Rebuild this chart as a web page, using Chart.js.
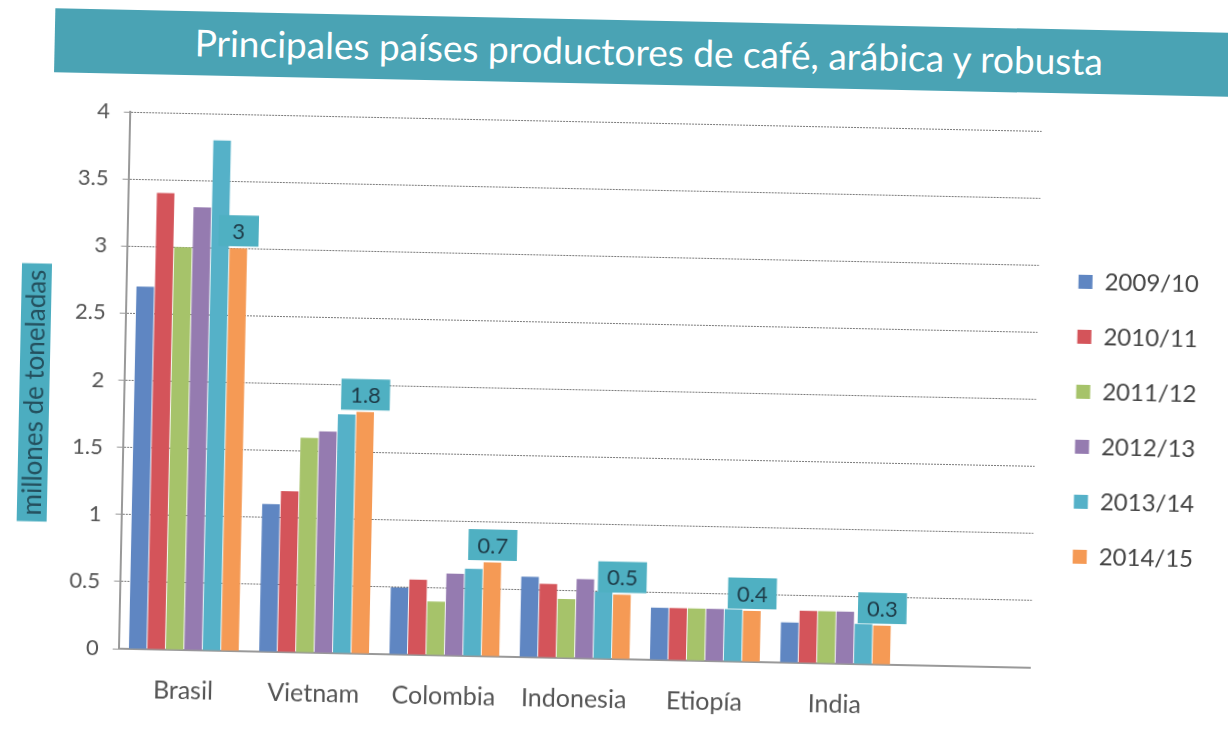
<!DOCTYPE html>
<html lang="es">
<head>
    <meta charset="UTF-8">
    <title>Principales países productores de café</title>
    <style>
        body { margin: 0; background: #fff; overflow: hidden; }
        .hoja { position: relative; width: 1228px; height: 733px; transform: rotate(1.2deg); background: #fff; }
        .banda { position: absolute; left: 48px; top: 20px; width: 1220px; height: 64px; background: #4aa3b4;
                 color: #fff; font-family: Lato, sans-serif; font-size: 37px; line-height: 62px; }
        .banda span { position: absolute; left: 140px; }
        #grafico { position: absolute; left: 0; top: 0; }
    </style>
</head>
<body>
    <div class="hoja">
        <div class="banda"><span>Principales países productores de café, arábica y robusta</span></div>
        <canvas id="grafico" width="1228" height="733"></canvas>
    </div>

    <script src="https://cdn.jsdelivr.net/npm/chart.js"></script>
    <script>
    // millones de toneladas
    const paises = ['Brasil', 'Vietnam', 'Colombia', 'Indonesia', 'Etiopía', 'India'];
    const campanas = ['2009/10', '2010/11', '2011/12', '2012/13', '2013/14', '2014/15'];
    const c2009 = [2.7, 1.1, 0.5, 0.6, 0.39, 0.3];
    const c2010 = [3.4, 1.2, 0.56, 0.55, 0.39, 0.39];
    const c2011 = [3.0, 1.6, 0.4, 0.44, 0.39, 0.39];
    const c2012 = [3.3, 1.65, 0.61, 0.59, 0.39, 0.39];
    const c2013 = [3.8, 1.78, 0.65, 0.5, 0.39, 0.3];
    const c2014 = [3.0, 1.8, 0.7, 0.48, 0.38, 0.29];
    const ticksY = [0, 0.5, 1, 1.5, 2, 2.5, 3, 3.5, 4];
    const colores = ['#5f86c2', '#d4545a', '#a6c36a', '#957bb0', '#55b1c8', '#f59a55'];
    const tituloY = 'millones de toneladas';

    const series = [c2009, c2010, c2011, c2012, c2013, c2014];
    const fuente = 'Lato, sans-serif';

    // titulo del eje y sobre caja de color (un poco mas abajo que el centro, como en el original)
    const tituloEje = {
        id: 'tituloEje',
        beforeDraw(chart) {
            const ctx = chart.ctx;
            const s = chart.scales.y;
            const cx = 35;
            const cy = (s.top + s.bottom) / 2 + 14;
            ctx.save();
            ctx.fillStyle = '#4cadc0';
            ctx.fillRect(cx - 15, cy - 129, 30, 258);
            ctx.translate(cx, cy);
            ctx.rotate(-Math.PI / 2);
            ctx.fillStyle = '#24505e';
            ctx.font = '26px ' + fuente;
            ctx.textAlign = 'center';
            ctx.textBaseline = 'middle';
            ctx.fillText(tituloY, 0, 1);
            ctx.restore();
        }
    };

    // mover la leyenda un poco
    const moverLeyenda = {
        id: 'moverLeyenda',
        afterLayout(chart) {
            const l = chart.legend;
            l.top -= 18; l.bottom -= 18;
            l.left += 9; l.right += 9;
        }
    };

    // etiquetas de la ultima campaña
    const etiquetas = {
        id: 'etiquetas',
        afterDatasetsDraw(chart) {
            const ctx = chart.ctx;
            const meta = chart.getDatasetMeta(5);
            const datos = chart.data.datasets[5].data;
            ctx.save();
            ctx.font = '22px ' + fuente;
            meta.data.forEach((bar, i) => {
                const txt = String(Number(datos[i].toFixed(1)));
                const w = Math.max(40, ctx.measureText(txt).width + 18);
                const h = 31;
                const y = bar.y - 2 - h;
                ctx.fillStyle = '#4fb0c2';
                ctx.fillRect(bar.x - w / 2, y, w, h);
                ctx.fillStyle = '#1e3b48';
                ctx.textAlign = 'center';
                ctx.textBaseline = 'middle';
                ctx.fillText(txt, bar.x, y + h / 2 + 1);
            });
            ctx.restore();
        }
    };

    const datos = {
        labels: [...paises, ''],
        datasets: campanas.map((c, i) => ({
            label: c,
            data: series[i],
            backgroundColor: colores[i],
            barPercentage: 0.95,
            categoryPercentage: 0.85,
        })),
    };

    new Chart(document.getElementById('grafico'), {
        type: 'bar',
        data: datos,
        options: {
            responsive: false,
            animation: false,
            layout: { padding: { left: 60, right: 30, top: 122, bottom: 0 } },
            plugins: {
                legend: {
                    position: 'right',
                    labels: {
                        boxWidth: 14, boxHeight: 14, padding: 31, color: '#444',
                        font: { family: fuente, size: 24 },
                    },
                },
                tooltip: { enabled: false },
            },
            scales: {
                x: {
                    grid: { display: false },
                    border: { color: '#999', width: 2 },
                    ticks: { color: '#555', padding: 18, font: { family: fuente, size: 25 } },
                },
                y: {
                    min: 0, max: 4,
                    afterBuildTicks: s => { s.ticks = ticksY.map(v => ({ value: v })); },
                    grid: { color: '#7a7a7a', tickLength: 6, tickColor: '#999' },
                    border: { color: '#999', width: 2, dash: [2, 1] },
                    ticks: { color: '#555', padding: 14, font: { family: fuente, size: 22 }, callback: v => String(v) },
                },
            },
        },
        plugins: [tituloEje, moverLeyenda, etiquetas],
    });
    </script>
</body>
</html>
